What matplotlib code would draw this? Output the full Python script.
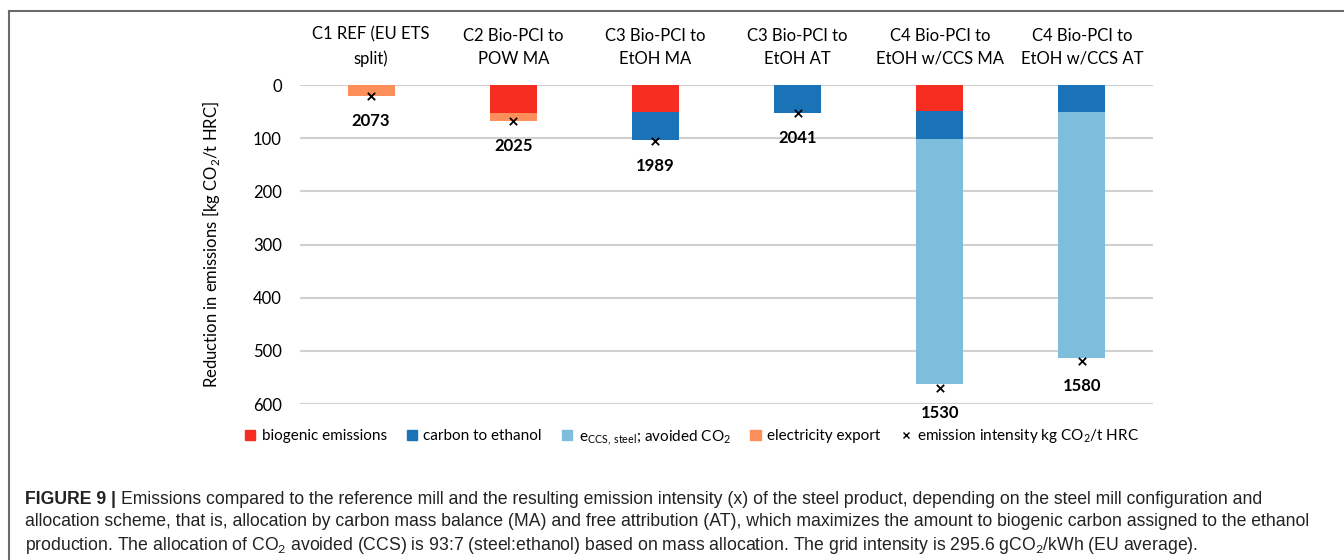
import matplotlib
matplotlib.use("Agg")
import matplotlib.pyplot as plt
import numpy as np
from matplotlib.lines import Line2D
from matplotlib.patches import Patch

# data
categories = ['C1 REF (EU ETS\nsplit)', 'C2 Bio-PCI to\nPOW MA', 'C3 Bio-PCI to\nEtOH MA',
              'C3 Bio-PCI to\nEtOH AT', 'C4 Bio-PCI to\nEtOH w/CCS MA', 'C4 Bio-PCI to\nEtOH w/CCS AT']
biogenic = [0, 52, 50, 0, 49, 0]
carbon_ethanol = [0, 0, 53, 52, 52, 51]
ccs_avoided = [0, 0, 0, 0, 462, 462]
electricity = [20, 15, 0, 0, 0, 0]
intensity = [2073, 2025, 1989, 2041, 1530, 1580]
marker_y = [20, 68, 105, 52, 570, 519]
yticks = [0, 100, 200, 300, 400, 500, 600]

c_red = '#F72D22'
c_blue = '#1A73B7'
c_light = '#7DBEDC'
c_orange = '#FC8F5A'

plt.rcParams['font.family'] = ['Lato', 'DejaVu Sans']
plt.rcParams['mathtext.fontset'] = 'custom'
plt.rcParams['mathtext.rm'] = 'Lato'

fig = plt.figure(figsize=(13.44, 5.6), dpi=100)
ax = fig.add_axes([300 / 1344, 1 - 404 / 560, 853 / 1344, 319 / 560])

x = np.arange(len(categories))
w = 0.33
bottom = np.zeros(len(categories))
for vals, col in [(biogenic, c_red), (carbon_ethanol, c_blue), (ccs_avoided, c_light), (electricity, c_orange)]:
    ax.bar(x, vals, w, bottom=bottom, color=col, zorder=3)
    bottom += np.array(vals)

ax.scatter(x, marker_y, marker='x', color='black', s=28, linewidths=1.3, zorder=4)
for xi, yi, lab in zip(x, marker_y, intensity):
    ax.annotate(str(lab), (xi, yi), xytext=(0, -18), textcoords='offset points',
                ha='center', va='center', fontsize=12, fontweight='bold', annotation_clip=False)

ax.set_xlim(-0.5, len(categories) - 0.5)
ax.set_ylim(600, 0)
ax.set_yticks(yticks)
ax.yaxis.grid(True, color='#D0D0D0', linewidth=1.5, zorder=0)
ax.xaxis.tick_top()
ax.set_xticks(x)
ax.set_xticklabels(categories, fontsize=12, linespacing=1.55)
ax.tick_params(axis='x', length=0, pad=13)
ax.tick_params(axis='y', length=0, pad=13, labelsize=12)
for s in ax.spines.values():
    s.set_visible(False)
ax.set_ylabel('Reduction in emissions [kg CO$_2$/t HRC]', fontsize=12)
ax.yaxis.set_label_coords(-0.091, 0.5)

handles = [Patch(color=c_red), Patch(color=c_blue), Patch(color=c_light), Patch(color=c_orange),
           Line2D([], [], marker='x', color='black', linestyle='none', markersize=5)]
labels = ['biogenic emissions', 'carbon to ethanol', r'e$_{\mathrm{CCS,\,steel}}$; avoided CO$_2$',
          'electricity export', 'emission intensity kg CO$_2$/t HRC']
fig.legend(handles, labels, loc='center', bbox_to_anchor=(692 / 1344, 1 - 437 / 560), ncol=5,
           frameon=False, fontsize=11, handlelength=0.7, handleheight=0.7, handletextpad=0.4,
           columnspacing=1.3)

# frame lines
fig.add_artist(Line2D([9 / 1344, 1], [1 - 11 / 560, 1 - 11 / 560], color='#6b6b6b', linewidth=1.5))
fig.add_artist(Line2D([9 / 1344, 9 / 1344], [0, 1 - 11 / 560], color='#6b6b6b', linewidth=1.5))

# caption
cap_font = ['Liberation Sans Narrow', 'Liberation Sans', 'DejaVu Sans']
cap_lines = [
    'Emissions compared to the reference mill and the resulting emission intensity (x) of the steel product, depending on the steel mill configuration and',
    'allocation scheme, that is, allocation by carbon mass balance (MA) and free attribution (AT), which maximizes the amount to biogenic carbon assigned to the ethanol',
    'production. The allocation of CO$_2$ avoided (CCS) is 93:7 (steel:ethanol) based on mass allocation. The grid intensity is 295.6 gCO$_2$/kWh (EU average).',
]
cap_size = 12.7
t0 = fig.text(25 / 1344, 1 - 500 / 560, 'FIGURE 9 | ', fontsize=cap_size, fontweight='bold', family=cap_font,
              va='center', color='#222222')
ax.annotate(cap_lines[0], xy=(1, 0.5), xycoords=t0, va='center', ha='left', fontsize=cap_size,
            family=cap_font, color='#222222')
fig.text(25 / 1344, 1 - 522 / 560, cap_lines[1], fontsize=cap_size, family=cap_font, va='center', color='#222222')
fig.text(25 / 1344, 1 - 545 / 560, cap_lines[2], fontsize=cap_size, family=cap_font, va='center', color='#222222')

fig.savefig('out.png', dpi=100)
